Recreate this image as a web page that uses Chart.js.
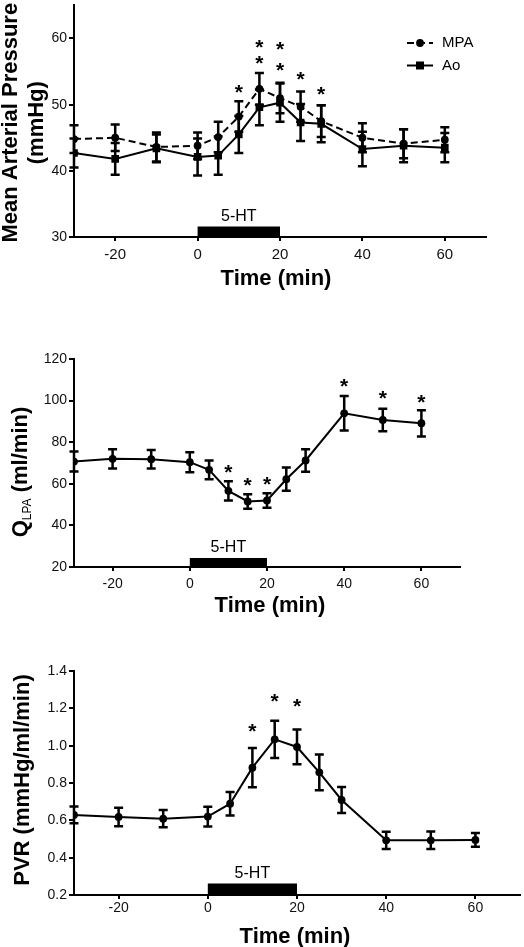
<!DOCTYPE html>
<html>
<head>
<meta charset="utf-8">
<script src="https://cdn.jsdelivr.net/npm/chart.js@4.4.0/dist/chart.umd.min.js"></script>
<style>
	html, body { margin: 0; padding: 0; background: #fff; }
	#page { position: relative; width: 524px; height: 947px; overflow: hidden; }
	.panel { position: absolute; left: 0; width: 524px; }
	canvas { display: block; }
</style>
</head>
<body>
<div id="page">
	<div class="panel" style="top:0px"><canvas id="map" width="524" height="290"></canvas></div>
	<div class="panel" style="top:290px"><canvas id="flow" width="524" height="330"></canvas></div>
	<div class="panel" style="top:620px"><canvas id="pvr" width="524" height="327"></canvas></div>
</div>
<script>
// sample times (min), shared by all three panels
const times = [-30, -20, -10, 0, 5, 10, 15, 20, 25, 30, 40, 50, 60];
const timeTicks = [-20, 0, 20, 40, 60];
const infusion = [0, 20];
const infusionLabel = `5-HT`;

// mean arterial pressure (mmHg), mean and SEM
const mpaMean = [44.8, 45.0, 43.6, 43.8, 45.1, 48.2, 52.4, 51.0, 49.7, 47.5, 45.0, 44.1, 44.7];
const mpaSem = [2.1, 2.0, 2.2, 2.0, 2.3, 2.3, 2.4, 2.3, 2.3, 2.4, 2.2, 2.2, 1.9];
const aoMean = [42.7, 41.8, 43.4, 42.1, 42.3, 45.5, 49.6, 50.3, 47.3, 47.1, 43.3, 43.8, 43.5];
const aoSem = [2.2, 2.4, 2.1, 2.8, 2.9, 2.8, 2.7, 2.9, 2.8, 2.8, 2.6, 2.5, 2.2];
const mapTicks = [30, 40, 50, 60];
const mapStarTimes = [10, 15, 15, 20, 20, 25, 30];
const mapStarLevels = [52.6, 59.4, 57.1, 59.1, 56.0, 54.7, 52.3];

// left pulmonary artery flow (ml/min)
const flowMean = [70.7, 72.0, 71.8, 70.4, 66.7, 56.6, 51.5, 52.0, 62.2, 71.2, 93.9, 90.7, 89.1];
const flowSem = [4.8, 4.6, 4.5, 4.8, 4.5, 4.6, 3.5, 3.5, 5.6, 5.4, 8.3, 5.4, 6.3];
const flowTicks = [20, 40, 60, 80, 100, 120];
const flowStarTimes = [10, 15, 20, 40, 50, 60];
const flowStarLevels = [68.3, 61.6, 62.2, 109.6, 103.8, 101.6];

// pulmonary vascular resistance (mmHg/ml/min)
const pvrMean = [0.629, 0.618, 0.609, 0.620, 0.689, 0.882, 1.034, 0.993, 0.857, 0.709, 0.493, 0.493, 0.495];
const pvrSem = [0.045, 0.050, 0.046, 0.053, 0.063, 0.105, 0.100, 0.093, 0.096, 0.070, 0.046, 0.047, 0.037];
const pvrTicks = [0.2, 0.4, 0.6, 0.8, 1.0, 1.2, 1.4];
const pvrStarTimes = [10, 15, 20];
const pvrStarLevels = [1.105, 1.266, 1.239];

const FONT = `"Liberation Sans", Arial, Helvetica, sans-serif`;

function points(values) {
	return values.map((v, i) => ({x: times[i], y: v}));
}

function series(label, values, sem, style, dash) {
	return {
		label: label,
		data: points(values),
		sem: sem,
		borderColor: `#000`,
		borderWidth: 2,
		borderDash: dash || [],
		tension: 0,
		pointStyle: style,
		pointRadius: style === `rect` ? 5.4 : 3.9,
		pointBackgroundColor: `#000`,
		pointBorderColor: `#000`,
		pointBorderWidth: 0
	};
}

const errorBars = {
	id: `errorBars`,
	beforeDatasetsDraw(chart) {
		const {ctx, scales: {x, y}} = chart;
		ctx.save();
		ctx.strokeStyle = `#000`;
		ctx.lineWidth = 2.5;
		chart.data.datasets.forEach(ds => {
			ds.data.forEach((pt, j) => {
				const px = x.getPixelForValue(pt.x);
				const top = y.getPixelForValue(pt.y + ds.sem[j]);
				const bot = y.getPixelForValue(pt.y - ds.sem[j]);
				ctx.beginPath();
				ctx.moveTo(px, top); ctx.lineTo(px, bot);
				ctx.moveTo(px - 4.5, top); ctx.lineTo(px + 4.5, top);
				ctx.moveTo(px - 4.5, bot); ctx.lineTo(px + 4.5, bot);
				ctx.stroke();
			});
		});
		ctx.restore();
	}
};

const decor = {
	id: `decor`,
	afterDraw(chart, args, opts) {
		const {ctx, chartArea, scales: {x, y}} = chart;
		ctx.save();
		ctx.fillStyle = `#000`;

		// infusion bar
		const x0 = x.getPixelForValue(infusion[0]);
		const x1 = x.getPixelForValue(infusion[1]);
		ctx.fillRect(x0, chartArea.bottom - opts.barHeight, x1 - x0, opts.barHeight + 1);
		ctx.font = `16px ${FONT}`;
		ctx.textAlign = `center`;
		ctx.textBaseline = `alphabetic`;
		ctx.fillText(infusionLabel, (x0 + x1) / 2, chartArea.bottom - opts.barHeight - 6);

		// significance marks
		ctx.font = `bold 21px ${FONT}`;
		opts.starTimes.forEach((t, i) => {
			ctx.fillText(`*`, x.getPixelForValue(t), y.getPixelForValue(opts.starLevels[i]) + 12);
		});

		// x title
		ctx.font = `bold 22px ${FONT}`;
		ctx.fillText(`Time (min)`, (chartArea.left + chartArea.right) / 2 + opts.xTitleShift, chartArea.bottom + opts.xTitleGap);

		// y title, rotated, one or more lines made of runs
		const centerY = (chartArea.top + chartArea.bottom) / 2 + opts.yTitleShift;
		opts.yTitle.forEach((runs, li) => {
			ctx.save();
			ctx.translate(opts.yTitleBase[li], centerY);
			ctx.rotate(-Math.PI / 2);
			ctx.textAlign = `left`;
			const fontOf = run => run.sub ? `12px ${FONT}` : `bold 22px ${FONT}`;
			let width = 0;
			runs.forEach(run => { ctx.font = fontOf(run); width += ctx.measureText(run.text).width; });
			let pos = -width / 2;
			runs.forEach(run => {
				ctx.font = fontOf(run);
				ctx.fillText(run.text, pos, run.sub ? 4 : 0);
				pos += ctx.measureText(run.text).width;
			});
			ctx.restore();
		});

		// legend
		if (opts.legend) {
			chart.data.datasets.forEach((ds, i) => {
				const ly = opts.legend.y + i * opts.legend.step;
				const lx = opts.legend.x;
				ctx.save();
				ctx.strokeStyle = `#000`;
				ctx.lineWidth = 2;
				ctx.setLineDash(ds.borderDash);
				ctx.beginPath();
				ctx.moveTo(lx, ly); ctx.lineTo(lx + 26, ly);
				ctx.stroke();
				ctx.setLineDash([]);
				if (ds.pointStyle === `rect`) {
					ctx.fillRect(lx + 13 - 4, ly - 4, 8, 8);
				} else {
					ctx.beginPath();
					ctx.arc(lx + 13, ly, 3.9, 0, Math.PI * 2);
					ctx.fill();
				}
				ctx.font = `15px ${FONT}`;
				ctx.textAlign = `left`;
				ctx.textBaseline = `middle`;
				ctx.fillText(ds.label, lx + 35, ly);
				ctx.restore();
			});
		}
		ctx.restore();
	}
};

function makeChart(id, p) {
	const canvas = document.getElementById(id);
	const axisGrid = tl => ({display: true, drawOnChartArea: false, drawTicks: true, tickLength: tl, color: `#000`, lineWidth: 2});
	// the y scale fills the left margin, the x scale the bottom margin; no label padding
	const fitBox = scale => {
		if (scale.isHorizontal()) { scale.height = canvas.height - p.area.bottom; } else { scale.width = p.area.left; }
		scale.paddingLeft = scale.paddingRight = scale.paddingTop = scale.paddingBottom = 0;
	};
	return new Chart(canvas, {
		type: `line`,
		data: {datasets: p.datasets},
		plugins: [errorBars, decor],
		options: {
			responsive: false,
			animation: false,
			events: [],
			layout: {
				padding: {left: 0, top: p.area.top, right: canvas.width - p.area.right, bottom: 0}
			},
			scales: {
				x: {
					type: `linear`,
					min: -30,
					max: 70,
					afterBuildTicks: scale => { scale.ticks = timeTicks.map(v => ({value: v})); },
					afterFit: fitBox,
					grid: axisGrid(4),
					border: {display: true, color: `#000`, width: 2},
					ticks: {color: `#111`, font: {family: FONT, size: p.xTickSize}, padding: p.xTickPad, maxRotation: 0, autoSkip: false}
				},
				y: {
					type: `linear`,
					min: p.yMin,
					max: p.yMax,
					afterBuildTicks: scale => { scale.ticks = p.yTicks.map(v => ({value: v})); },
					afterFit: fitBox,
					grid: axisGrid(5),
					border: {display: true, color: `#000`, width: 2},
					ticks: {color: `#111`, font: {family: FONT, size: p.yTickSize}, padding: 2, autoSkip: false, callback: p.yFormat}
				}
			},
			plugins: {
				legend: {display: false},
				tooltip: {enabled: false},
				decor: p.decor
			}
		}
	});
}

makeChart(`map`, {
	area: {left: 74, right: 486, top: 0, bottom: 237},
	yMin: 30, yMax: 65, yTicks: mapTicks, yTickSize: 14, xTickSize: 15, xTickPad: 5,
	yFormat: v => `${v}`,
	datasets: [
		series(`MPA`, mpaMean, mpaSem, `circle`, [7, 4]),
		series(`Ao`, aoMean, aoSem, `rect`)
	],
	decor: {
		barHeight: 10.5,
		starTimes: mapStarTimes, starLevels: mapStarLevels,
		xTitleGap: 48, xTitleShift: -4,
		yTitle: [[{text: `Mean Arterial Pressure`}], [{text: `(mmHg)`}]],
		yTitleBase: [17, 43], yTitleShift: 1.5,
		legend: {x: 407, y: 43, step: 22.5}
	}
});

makeChart(`flow`, {
	area: {left: 74, right: 460, top: 69, bottom: 277},
	yMin: 20, yMax: 120, yTicks: flowTicks, yTickSize: 14, xTickSize: 14, xTickPad: 5,
	yFormat: v => `${v}`,
	datasets: [series(`QLPA`, flowMean, flowSem, `circle`)],
	decor: {
		barHeight: 9,
		starTimes: flowStarTimes, starLevels: flowStarLevels,
		xTitleGap: 44.5, xTitleShift: 3,
		yTitle: [[{text: `Q`}, {text: `LPA`, sub: true}, {text: ` (ml/min)`}]],
		yTitleBase: [27], yTitleShift: 9
	}
});

makeChart(`pvr`, {
	area: {left: 74, right: 522, top: 51, bottom: 275},
	yMin: 0.2, yMax: 1.4, yTicks: pvrTicks, yTickSize: 14, xTickSize: 14, xTickPad: 1,
	yFormat: v => v.toFixed(1),
	datasets: [series(`PVR`, pvrMean, pvrSem, `circle`)],
	decor: {
		barHeight: 11.5,
		starTimes: pvrStarTimes, starLevels: pvrStarLevels,
		xTitleGap: 47.5, xTitleShift: -2,
		yTitle: [[{text: `PVR (mmHg/ml/min)`}]],
		yTitleBase: [29], yTitleShift: -3
	}
});
</script>
</body>
</html>
